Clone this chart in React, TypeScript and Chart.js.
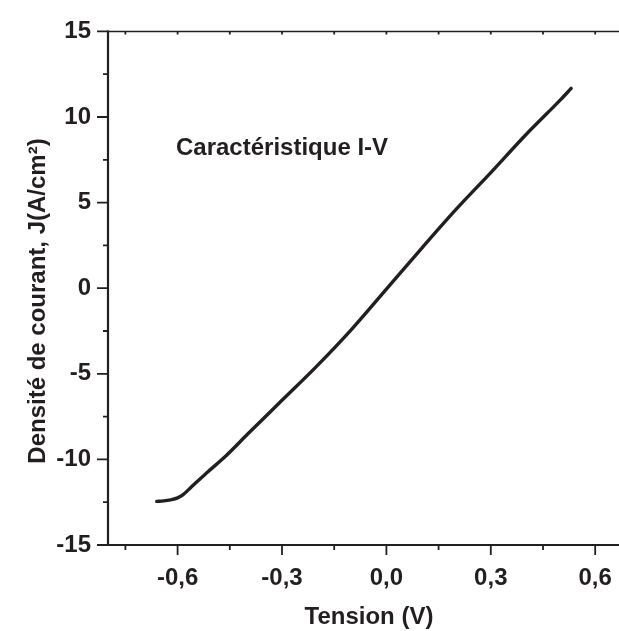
import React, { useEffect, useRef } from "react";
import { Chart, registerables } from "chart.js";

Chart.register(...registerables);

// Data (Tension V vs current density J A/cm²)
const voltage = [-0.66, -0.64, -0.62, -0.6, -0.585, -0.56, -0.52, -0.46, -0.4, -0.3, -0.2, -0.1, 0.0, 0.1, 0.2, 0.3, 0.4, 0.5, 0.531];
const current = [-12.45, -12.42, -12.36, -12.25, -12.07, -11.6, -10.85, -9.77, -8.55, -6.55, -4.55, -2.4, -0.05, 2.3, 4.6, 6.75, 8.95, 11.0, 11.67];

const xMajorTicks = [-0.6, -0.3, 0.0, 0.3, 0.6];
const xMinorTicks = [-0.75, -0.45, -0.15, 0.15, 0.45, 0.75];
const yMajorTicks = [-15, -10, -5, 0, 5, 10, 15];
const yMinorTicks = [-12.5, -7.5, -2.5, 2.5, 7.5, 12.5];

const xTitle = "Tension (V)";
const yTitle = "Densité de courant, J(A/cm²)";
const annotation = "Caractéristique I-V";

const INK = "#231f20";
const FONT = "'Liberation Sans', Arial, sans-serif";

const framePlugin = {
  id: "framePlugin",
  afterDraw(chart: any) {
    const { ctx, chartArea } = chart;
    const xs = chart.scales.x;
    const ys = chart.scales.y;
    const { left, right, top, bottom } = chartArea;
    ctx.save();
    ctx.strokeStyle = INK;
    ctx.lineCap = "butt";
    // top line
    ctx.lineWidth = 1.5;
    ctx.beginPath();
    ctx.moveTo(left, top);
    ctx.lineTo(right + 20, top);
    ctx.stroke();
    // left and bottom axes
    ctx.lineWidth = 2.2;
    ctx.beginPath();
    ctx.moveTo(left, top - 1);
    ctx.lineTo(left, bottom + 1);
    ctx.moveTo(left - 1, bottom);
    ctx.lineTo(right + 20, bottom);
    ctx.stroke();
    // ticks
    ctx.lineWidth = 1.8;
    ctx.beginPath();
    xMajorTicks.forEach((v) => {
      const px = xs.getPixelForValue(v);
      ctx.moveTo(px, bottom);
      ctx.lineTo(px, bottom + 10);
      ctx.moveTo(px, top);
      ctx.lineTo(px, top + 3);
    });
    xMinorTicks.forEach((v) => {
      const px = xs.getPixelForValue(v);
      ctx.moveTo(px, bottom);
      ctx.lineTo(px, bottom + 5);
      ctx.moveTo(px, top);
      ctx.lineTo(px, top + 3);
    });
    yMajorTicks.forEach((v) => {
      const py = ys.getPixelForValue(v);
      ctx.moveTo(left, py);
      ctx.lineTo(left - 11, py);
    });
    yMinorTicks.forEach((v) => {
      const py = ys.getPixelForValue(v);
      ctx.moveTo(left, py);
      ctx.lineTo(left - 5, py);
    });
    ctx.stroke();

    // texts
    ctx.fillStyle = INK;
    ctx.font = `bold 24px ${FONT}`;
    ctx.textBaseline = "alphabetic";
    // x title
    ctx.textAlign = "center";
    ctx.fillText(xTitle, 369, 624);
    // y title
    ctx.save();
    ctx.translate(45, 301);
    ctx.rotate(-Math.PI / 2);
    ctx.textAlign = "center";
    ctx.fillText(yTitle, 0, 0);
    ctx.restore();
    // annotation
    ctx.textAlign = "left";
    ctx.fillText(annotation, 176, 155);
    ctx.restore();
  },
};

export default function App() {
  const ref = useRef<HTMLCanvasElement | null>(null);
  useEffect(() => {
    if (!ref.current) return;
    const chart = new Chart(ref.current, {
      type: "line",
      data: {
        datasets: [
          {
            data: voltage.map((v, i) => ({ x: v, y: current[i] })),
            borderColor: INK,
            borderWidth: 3.4,
            pointRadius: 0,
            cubicInterpolationMode: "monotone",
            fill: false,
            borderCapStyle: "round",
            borderJoinStyle: "round",
          },
        ],
      },
      options: {
        animation: false,
        responsive: false,
        devicePixelRatio: 1,
        layout: { padding: { top: 24, right: 10, left: 0, bottom: 0 } },
        plugins: { legend: { display: false }, tooltip: { enabled: false } },
        scales: {
          x: {
            type: "linear",
            min: -0.8,
            max: 0.7,
            border: { display: false },
            grid: { display: false, drawTicks: false },
            afterBuildTicks: (scale: any) => {
              scale.ticks = xMajorTicks.map((v) => ({ value: v }));
            },
            afterFit: (scale: any) => {
              scale.height = 86;
            },
            ticks: {
              color: INK,
              font: { family: FONT, size: 24, weight: "bold" },
              padding: 19,
              maxRotation: 0,
              autoSkip: false,
              callback: (v: any) => Number(v).toFixed(1).replace(".", ","),
            },
          },
          y: {
            type: "linear",
            min: -15,
            max: 15,
            border: { display: false },
            grid: { display: false, drawTicks: false },
            afterBuildTicks: (scale: any) => {
              scale.ticks = yMajorTicks.map((v) => ({ value: v }));
            },
            afterFit: (scale: any) => {
              scale.width = 108;
            },
            ticks: {
              color: INK,
              font: { family: FONT, size: 24, weight: "bold" },
              padding: 17,
              autoSkip: false,
              callback: (v: any) => String(v),
            },
          },
        },
      },
      plugins: [framePlugin],
    });
    return () => chart.destroy();
  }, []);
  return (
    <div style={{ position: "absolute", left: 0, top: 0, width: 619, height: 631, overflow: "hidden", background: "#fff" }}>
      <canvas ref={ref} width={640} height={631} style={{ display: "block", width: 640, height: 631 }} />
    </div>
  );
}
